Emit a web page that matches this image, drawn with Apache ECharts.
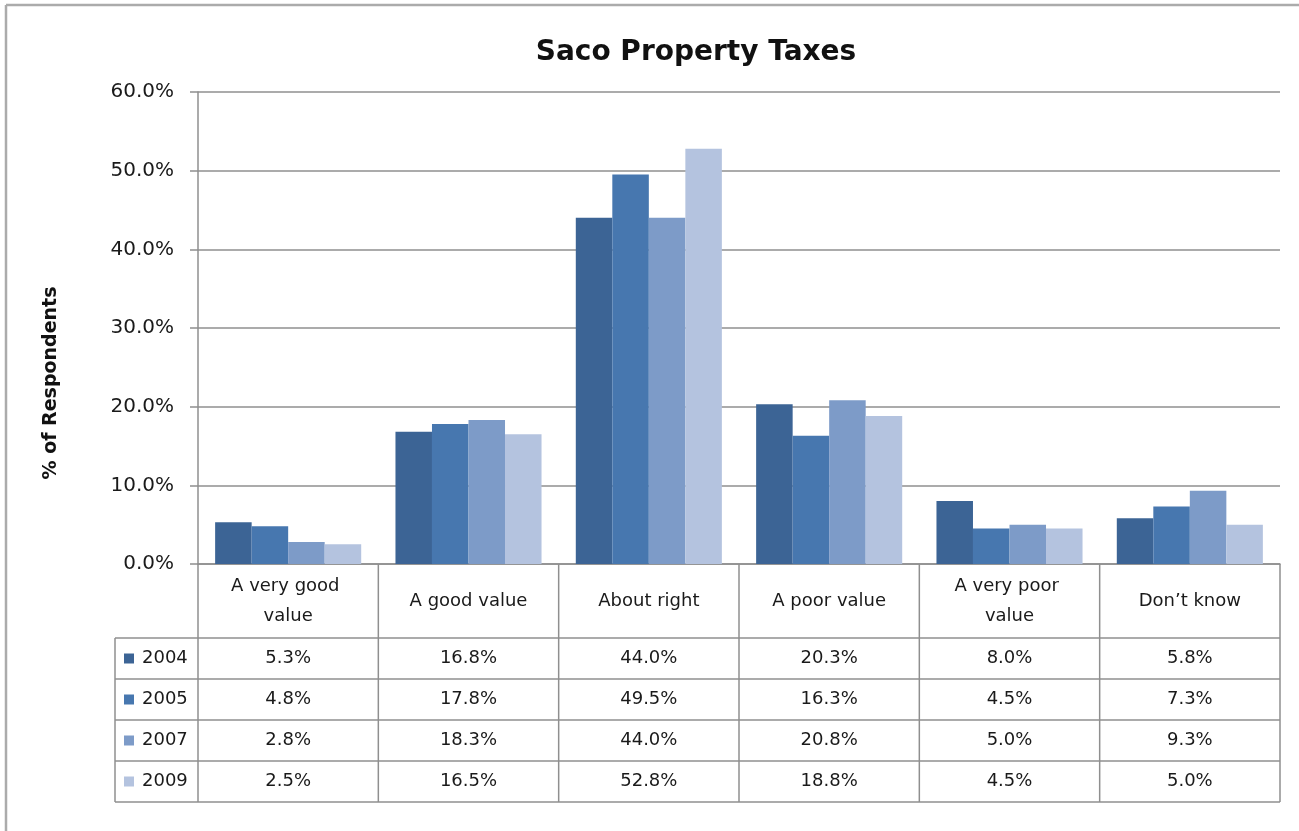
<!DOCTYPE html>
<html>
<head>
<meta charset="utf-8">
<title>Saco Property Taxes</title>
<script src="https://cdn.jsdelivr.net/npm/echarts@6.0.0/dist/echarts.min.js"></script>
<style>
  html, body { margin: 0; padding: 0; background: #ffffff; }
  #chart { width: 1299px; height: 831px; }
</style>
</head>
<body>
<div id="chart"></div>
<script>
// Survey answers (x categories) and the four survey years
const categories = ['A very good value', 'A good value', 'About right', 'A poor value', 'A very poor value', 'Don\u2019t know'];
const years = ['2004', '2005', '2007', '2009'];

// Percent of respondents per answer, one array per year
const values2004 = [5.3, 16.8, 44.0, 20.3, 8.0, 5.8];
const values2005 = [4.8, 17.8, 49.5, 16.3, 4.5, 7.3];
const values2007 = [2.8, 18.3, 44.0, 20.8, 5.0, 9.3];
const values2009 = [2.5, 16.5, 52.8, 18.8, 4.5, 5.0];

// Value axis ticks (percent)
const yTicks = [0, 10, 20, 30, 40, 50, 60];

const seriesValues = [values2004, values2005, values2007, values2009];
const colors = ['#3c6495', '#4777af', '#7d9bc8', '#b4c3df'];
const textColor = '#1a1a1a';
const lineColor = '#8f8f8f';
const FONT = '"DejaVu Sans", sans-serif';

const chart = echarts.init(document.getElementById('chart'), null, { renderer: 'canvas' });

const fmt = v => v.toFixed(1) + '%';

chart.setOption({
  animation: false,
  backgroundColor: '#ffffff',
  textStyle: { fontFamily: FONT, color: textColor },
  title: {
    text: 'Saco Property Taxes',
    left: 691,
    top: 34,
    textAlign: 'center',
    textStyle: { fontFamily: FONT, fontSize: 28, fontWeight: 'bold', color: '#111111' }
  },
  grid: { left: 198, right: 19, top: 92, bottom: 267, containLabel: false, outerBoundsMode: 'none' },
  xAxis: {
    type: 'category',
    data: categories,
    axisLine: { show: true, lineStyle: { color: lineColor, width: 1.5 } },
    axisTick: { show: false },
    axisLabel: {
      interval: 0,
      width: 140,
      overflow: 'break',
      margin: 37,
      verticalAlign: 'middle',
      lineHeight: 30,
      fontSize: 18,
      fontFamily: FONT,
      color: textColor
    }
  },
  yAxis: {
    type: 'value',
    min: yTicks[0],
    max: yTicks[yTicks.length - 1],
    interval: yTicks[1] - yTicks[0],
    axisLine: { show: true, lineStyle: { color: lineColor, width: 1.5 } },
    axisTick: { show: true, length: 8, lineStyle: { color: lineColor, width: 1.5 } },
    splitLine: { show: true, lineStyle: { color: lineColor, width: 1.5 } },
    axisLabel: { formatter: v => fmt(v), fontSize: 20, margin: 24, fontFamily: FONT, color: textColor }
  },
  series: years.map((y, i) => ({
    name: y,
    type: 'bar',
    data: seriesValues[i],
    barGap: '0%',
    barCategoryGap: '19%',
    itemStyle: { color: colors[i] }
  }))
});

// Data table under the plot, aligned to the category bands of the x axis
function buildTable() {
  const y0 = chart.convertToPixel({ yAxisIndex: 0 }, 0);
  const c0 = chart.convertToPixel({ xAxisIndex: 0 }, 0);
  const c1 = chart.convertToPixel({ xAxisIndex: 0 }, 1);
  const band = c1 - c0;
  const plotLeft = c0 - band / 2;
  const plotRight = plotLeft + band * categories.length;
  const headerH = 74;
  const rowH = 41;
  const tableLeft = 115;
  const rowsTop = y0 + headerH;
  const tableBottom = rowsTop + rowH * years.length;

  const els = [];
  const line = (x1, y1, x2, y2, color, w) => els.push({
    type: 'line', silent: true,
    shape: { x1, y1, x2, y2 },
    style: { stroke: color || lineColor, lineWidth: w || 1.5 }
  });

  // Outer chart frame (top and left edges)
  line(6, 5, 1299, 5, '#ababab', 2.5);
  line(6, 5, 6, 831, '#ababab', 2.5);

  // Vertical band separators through header and value rows
  for (let k = 0; k <= categories.length; k++) {
    const x = plotLeft + band * k;
    line(x, y0, x, tableBottom);
  }
  // Horizontal row lines
  for (let r = 0; r <= years.length; r++) {
    const y = rowsTop + rowH * r;
    line(tableLeft, y, plotRight, y);
  }
  line(tableLeft, rowsTop, tableLeft, tableBottom);

  // Legend keys and value cells
  years.forEach((yr, r) => {
    const cy = rowsTop + rowH * r + rowH / 2;
    els.push({
      type: 'rect', silent: true,
      shape: { x: 124, y: cy - 5, width: 10, height: 10 },
      style: { fill: colors[r] }
    });
    els.push({
      type: 'text', silent: true, x: 142, y: cy,
      style: { text: yr, fontSize: 18, fontFamily: FONT, fill: textColor, align: 'left', verticalAlign: 'middle' }
    });
    seriesValues[r].forEach((v, k) => {
      els.push({
        type: 'text', silent: true,
        x: chart.convertToPixel({ xAxisIndex: 0 }, k), y: cy,
        style: { text: fmt(v), fontSize: 18, fontFamily: FONT, fill: textColor, align: 'center', verticalAlign: 'middle' }
      });
    });
  });

  // Value axis title
  els.push({
    type: 'text', silent: true, x: 51, y: 383, rotation: Math.PI / 2,
    style: { text: '% of Respondents', fontSize: 19, fontWeight: 'bold', fontFamily: FONT, fill: '#111111', align: 'center', verticalAlign: 'middle' }
  });

  chart.setOption({ graphic: { elements: els } });
}

buildTable();
</script>
</body>
</html>
